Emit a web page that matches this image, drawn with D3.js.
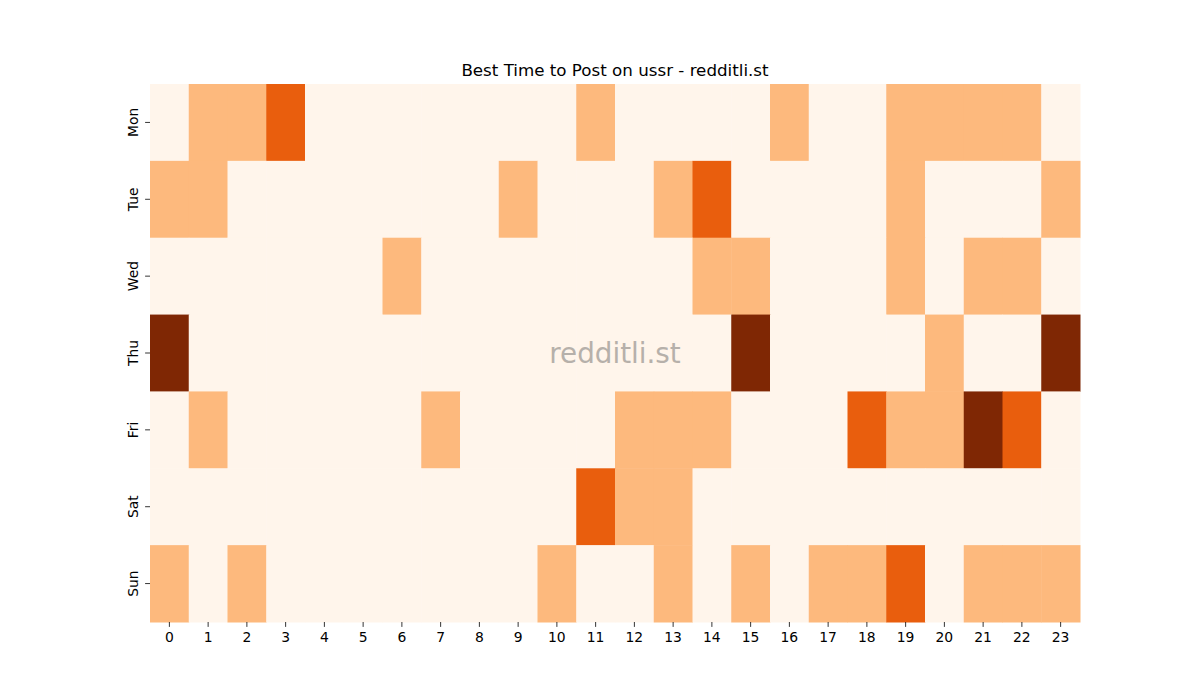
<!DOCTYPE html>
<html>
<head>
<meta charset="utf-8">
<script src="https://cdn.jsdelivr.net/npm/d3@7"></script>
<style>
  body { margin: 0; background: #fff; }
  text { font-family: "DejaVu Sans", sans-serif; }
</style>
</head>
<body>
<div id="content"></div>
<script>
// rows of the heatmap, one value per hour (0..3)
let days = ["Mon", "Tue", "Wed", "Thu", "Fri", "Sat", "Sun"];
let hours = d3.range(24);
let mon = [0,1,1,2,0,0,0,0,0,0,0,1,0,0,0,0,1,0,0,1,1,1,1,0];
let tue = [1,1,0,0,0,0,0,0,0,1,0,0,0,1,2,0,0,0,0,1,0,0,0,1];
let wed = [0,0,0,0,0,0,1,0,0,0,0,0,0,0,1,1,0,0,0,1,0,1,1,0];
let thu = [3,0,0,0,0,0,0,0,0,0,0,0,0,0,0,3,0,0,0,0,1,0,0,3];
let fri = [0,1,0,0,0,0,0,1,0,0,0,0,1,1,1,0,0,0,2,1,1,3,2,0];
let sat = [0,0,0,0,0,0,0,0,0,0,0,2,1,1,0,0,0,0,0,0,0,0,0,0];
let sun = [1,0,1,0,0,0,0,0,0,0,1,0,0,1,0,1,0,1,1,2,0,1,1,1];
let levelColors = ["#fff5eb", "#fdb97d", "#e95e0d", "#7f2704"];

let width = 1200;
let height = 700;
let margin = {top: 84, right: 120, bottom: 78, left: 150};

let svg = d3.select("#content").append("svg")
            .attr("width", width)
            .attr("height", height);

let rows = [mon, tue, wed, thu, fri, sat, sun];
let cells = [];
rows.forEach(function(row, i) {
  row.forEach(function(v, h) {
    cells.push({day: days[i], hour: hours[h], value: v});
  });
});

let x = d3.scaleBand().domain(hours).range([margin.left, width - margin.right]);
let y = d3.scaleBand().domain(days).range([margin.top, height - margin.bottom]);
let color = d3.scaleOrdinal().domain([0, 1, 2, 3]).range(levelColors);

svg.selectAll("rect.cell").data(cells).enter().append("rect")
   .attr("class", "cell")
   .attr("x", d => x(d.hour))
   .attr("y", d => y(d.day))
   .attr("width", x.bandwidth() + 0.5)
   .attr("height", y.bandwidth() + 0.5)
   .attr("fill", d => color(d.value));

// axes, seaborn style: no domain line
let xAxis = svg.append("g")
   .attr("transform", `translate(0,${height - margin.bottom})`)
   .call(d3.axisBottom(x).tickSize(4.9).tickPadding(5));
let yAxis = svg.append("g")
   .attr("transform", `translate(${margin.left},0)`)
   .call(d3.axisLeft(y).tickSize(4.9).tickPadding(5));

[xAxis, yAxis].forEach(function(a) {
  a.select(".domain").remove();
  a.selectAll(".tick line").attr("stroke", "#000").attr("stroke-width", 0.8);
  a.selectAll(".tick text")
   .style("font-family", "DejaVu Sans, sans-serif")
   .style("font-size", "13.9px")
   .attr("fill", "#000");
});

yAxis.selectAll(".tick text")
     .attr("transform", "rotate(-90)")
     .attr("x", 0)
     .attr("y", -12.5)
     .attr("dy", "0")
     .attr("text-anchor", "middle");

svg.append("text")
   .attr("x", (margin.left + width - margin.right) / 2)
   .attr("y", margin.top - 8)
   .attr("text-anchor", "middle")
   .style("font-size", "16.7px")
   .text("Best Time to Post on ussr - redditli.st");

// watermark
svg.append("text")
   .attr("x", (margin.left + width - margin.right) / 2)
   .attr("y", (margin.top + height - margin.bottom) / 2 + 10)
   .attr("text-anchor", "middle")
   .attr("fill", "#b6b0aa")
   .style("font-size", "27.8px")
   .text("redditli.st");
</script>
</body>
</html>
